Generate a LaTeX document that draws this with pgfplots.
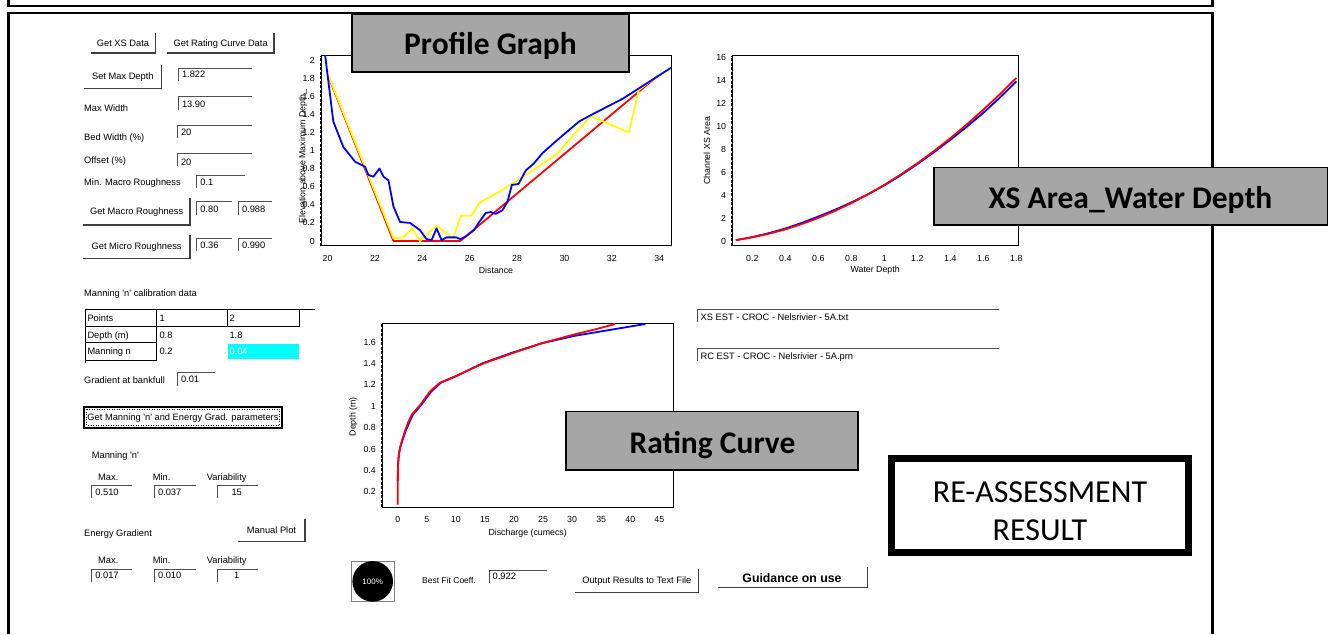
\documentclass[border=0pt]{standalone}
\usepackage{pgfplots}
\pgfplotsset{compat=1.18}
\usepackage{fontspec}
\setmainfont{Liberation Sans}
\newfontfamily\calib{Carlito}
\definecolor{boxgray}{HTML}{A6A6A6}
\definecolor{btnshadow}{HTML}{404040}
\definecolor{fieldline}{HTML}{505050}
\definecolor{ylw}{HTML}{FFFF00}
\definecolor{cyanfill}{HTML}{00FFFF}
\newcommand{\Btn}[5]{%
  \draw[btn] (#1,634-#4) -- (#2,634-#4) -- (#2,634-#3);
  \node[uic] at ({(#1+#2)/2},{634-(#3+#4)/2}) {#5};}
\newcommand{\Fld}[5]{%
  \draw[fld] (#1,634-#2-13) -- (#1,634-#2) -- (#3,634-#2);
  \node[ui] at (#1+3.5,634-#4) {#5};}
\newcommand{\Lbl}[3]{\node[ui] at (#1,634-#2) {#3};}
\newcommand{\q}{\textquotesingle}
\pgfplotsset{chart/.style={
  scale only axis, anchor=south west,
  axis line style={black, line width=1pt},
  tick style={draw=none},
  ticklabel style={font=\fontsize{8.8}{9}\selectfont},
  /pgf/number format/assume math mode=true,
  xticklabel style={anchor=center, yshift=-12pt},
  yticklabel style={anchor=east, inner sep=0pt, xshift=-6pt},
  label style={font=\fontsize{8.8}{9}\selectfont},
  clip mode=individual,
  every axis plot/.append style={line width=1.8pt, line join=round},
}}
\begin{document}
\begin{tikzpicture}[x=1pt,y=1pt,
  ui/.style={font=\fontsize{9.3}{10}\selectfont, inner sep=0pt, text height=6.7pt, text depth=0pt, anchor=west},
  uic/.style={ui, anchor=center},
  btn/.style={draw=btnshadow, line width=1.2pt},
  fld/.style={draw=fieldline, line width=0.9pt}]
\fill[white] (0,0) rectangle (1332,634);
% outer frames
\draw[line width=2.5pt] (8.5,634) -- (8.5,628) -- (1212.5,628) -- (1212.5,634);
\draw[line width=2.5pt] (8.5,0) -- (8.5,621) -- (1212.5,621) -- (1212.5,0);

% ---------------- Profile graph
\begin{axis}[chart, at={(321pt,388pt)}, width=350pt, height=190.3pt,
  xmin=19.72, xmax=34.5, ymin=-0.055, ymax=2.047,
  xtick={20,22,...,34}, ytick={0,0.2,0.4,0.6,0.8,1,1.2,1.4,1.6,1.8,2},
  xlabel={Distance}, ylabel={Elevation above Maximum Depth\_},
  xlabel style={at={(axis description cs:0.5,-0.126)}, anchor=center},
  ylabel style={at={(axis description cs:-0.0514,0.47)}, anchor=center}]
\addplot[red] coordinates {(20.03,1.82) (22.78,0) (25.6,0) (33.92,1.82)};
\addplot[ylw] coordinates {(20.03,1.83) (22.78,0.03) (23.2,0.04) (23.56,0.14) (23.9,0.0) (24.6,0.17) (25.3,0.03) (25.63,0.28) (26.08,0.28) (26.4,0.42) (27.67,0.61) (29.63,0.95) (31.11,1.38) (32.72,1.20) (33.14,1.67) (33.92,1.82)};
\addplot[blue] coordinates {(19.85,2.15) (19.9,2.04) (20.24,1.32) (20.66,1.04) (21.16,0.876) (21.58,0.82) (21.72,0.73) (21.93,0.71) (22.19,0.80) (22.36,0.71) (22.57,0.67) (22.78,0.38) (23.06,0.21) (23.48,0.20) (23.9,0.12) (24.18,0.02) (24.39,0.01) (24.6,0.14) (24.81,0.01) (25.02,0.04) (25.44,0.04) (25.6,0.02) (25.83,0.05) (26.18,0.12) (26.4,0.21) (26.68,0.31) (26.89,0.32) (27.1,0.30) (27.38,0.34) (27.59,0.43) (27.78,0.62) (28.06,0.63) (28.37,0.78) (28.72,0.86) (29.07,0.97) (29.63,1.10) (30.12,1.21) (30.62,1.32) (31.11,1.39) (32.45,1.57) (34.48,1.91) (34.6,1.93)};
\draw[line width=2pt, dash pattern=on 3pt off 1.5pt] (rel axis cs:0,0) -- (rel axis cs:0,1);
\end{axis}

% ---------------- XS area
\begin{axis}[chart, at={(732.3pt,388pt)}, width=285.7pt, height=190pt,
  xmin=0.079, xmax=1.81, ymin=-0.35, ymax=16.1,
  xtick={0.2,0.4,0.6,0.8,1,1.2,1.4,1.6,1.8}, ytick={0,2,...,16},
  xlabel={Water Depth}, ylabel={Channel XS Area},
  xlabel style={at={(axis description cs:0.5,-0.126)}, anchor=center},
  ylabel style={at={(axis description cs:-0.0886,0.5)}, anchor=center}]
\addplot[blue] coordinates {(0.1,0.15) (0.2,0.42) (0.3,0.76) (0.4,1.16) (0.5,1.65) (0.6,2.2) (0.7,2.78) (0.8,3.42) (0.9,4.12) (1.0,4.90) (1.1,5.78) (1.2,6.74) (1.3,7.76) (1.4,8.84) (1.5,9.98) (1.6,11.18) (1.7,12.5) (1.8,13.9)};
\addplot[red] coordinates {(0.1,0.16) (0.2,0.40) (0.3,0.71) (0.4,1.09) (0.5,1.55) (0.6,2.08) (0.7,2.68) (0.8,3.36) (0.9,4.11) (1.0,4.94) (1.1,5.84) (1.2,6.81) (1.3,7.86) (1.4,8.98) (1.5,10.18) (1.6,11.45) (1.7,12.79) (1.8,14.2)};
\draw[line width=2pt, dash pattern=on 3pt off 1.5pt] (rel axis cs:0,0) -- (rel axis cs:0,1);
\end{axis}

% ---------------- Rating curve
\begin{axis}[chart, at={(382pt,126.7pt)}, width=291.3pt, height=183.3pt,
  xmin=-2.7, xmax=47.4, ymin=0.054, ymax=1.77,
  xtick={0,5,...,45}, ytick={0.2,0.4,0.6,0.8,1,1.2,1.4,1.6},
  xlabel={Discharge (cumecs)}, ylabel={Depth (m)},
  xlabel style={at={(axis description cs:0.5,-0.142)}, anchor=center},
  ylabel style={at={(axis description cs:-0.0985,0.494)}, anchor=center}]
\addplot[blue] coordinates {(0,0.3) (0.05,0.45) (0.2,0.55) (0.45,0.62) (0.75,0.67) (1.3,0.76) (2.0,0.85) (2.6,0.92) (4.0,1.01) (5.8,1.14) (7.4,1.22) (10.0,1.28) (14.5,1.40) (19.6,1.50) (24.8,1.59) (30.5,1.66) (36,1.71) (42.6,1.77)};
\addplot[red] coordinates {(0,0.08) (0.02,0.3) (0.06,0.45) (0.2,0.55) (0.45,0.62) (0.69,0.67) (1.2,0.76) (1.8,0.85) (2.41,0.92) (3.84,1.01) (5.56,1.14) (7.28,1.22) (9.86,1.28) (14.7,1.40) (19.9,1.50) (24.8,1.59) (30.2,1.67) (34,1.72) (37.4,1.77)};
\draw[line width=2pt, dash pattern=on 3pt off 1.5pt] (rel axis cs:0,0) -- (rel axis cs:0,1);
\end{axis}

% ---------------- title boxes
\draw[fill=boxgray, line width=1.5pt] (352,634-14) rectangle (629,634-72);
\node[anchor=base, inner sep=0pt, font=\calib\bfseries\fontsize{31.5}{32}\selectfont] at (490.5,634-55) {Profile Graph};
\draw[fill=boxgray, line width=1.5pt] (934,634-167.3) rectangle (1327.7,634-225);
\node[anchor=base, inner sep=0pt, font=\calib\bfseries\fontsize{31.5}{32}\selectfont] at (1130.5,634-208.5) {XS Area\_Water Depth};
\draw[fill=boxgray, line width=1.5pt] (566,634-411.7) rectangle (858,634-470);
\node[anchor=base, inner sep=0pt, font=\calib\bfseries\fontsize{31.5}{32}\selectfont] at (712.5,634-453.3) {Rating Curve};
\draw[line width=7pt] (891.8,634-458.5) rectangle (1188.2,634-552.2);
\node[anchor=base, inner sep=0pt, font=\calib\fontsize{32}{34}\selectfont] at (1040,634-503) {RE-ASSESSMENT};
\node[anchor=base, inner sep=0pt, font=\calib\fontsize{32}{34}\selectfont] at (1040,634-541) {RESULT};

% ---------------- left panel
\Btn{90.7}{155.3}{33}{53}{Get XS Data}
\Btn{167.3}{274}{33}{53}{Get Rating Curve Data}
\Btn{84}{161.7}{65}{88.3}{Set Max Depth}
\Fld{178.3}{68.3}{251.7}{74.3}{1.822}
\Lbl{84}{108.3}{Max Width}
\Fld{178.3}{96.7}{251.7}{104.3}{13.90}
\Lbl{84}{137.3}{Bed Width (\%)}
\Fld{177.3}{125}{251.7}{132.3}{20}
\Lbl{84}{160}{Offset (\%)}
\Fld{177.3}{153.3}{251.7}{161.7}{20}
\Lbl{84}{181.7}{Min. Macro Roughness}
\Fld{196.7}{175}{245}{181.7}{0.1}
\Btn{83.3}{190}{198.3}{225}{Get Macro Roughness}
\Fld{196.7}{201.7}{231.7}{209}{0.80}
\Fld{238.3}{201.7}{272}{209}{0.988}
\Btn{83.3}{190}{235}{258.3}{Get Micro Roughness}
\Fld{196.7}{238.3}{231.7}{245}{0.36}
\Fld{238.3}{238.3}{272}{245}{0.990}

\Lbl{84}{293.3}{Manning \q n\q{} calibration data}
\fill[cyanfill] (228.3,634-344) rectangle (299.3,634-359);
\begin{scope}[line width=0.9pt]
\draw (85,634-309.3) -- (315,634-309.3);
\draw (85,634-326.7) -- (299.3,634-326.7);
\draw (299.3,634-309.3) -- (299.3,634-326.7);
\draw (227.7,634-309.3) -- (227.7,634-326.7);
\draw (156.7,634-309.3) -- (156.7,634-360);
\draw (85,634-342.7) -- (156.7,634-342.7);
\draw (85,634-360) -- (156.7,634-360);
\draw (85,634-309.3) -- (85,634-363.3);
\end{scope}
\Lbl{87.3}{318.3}{Points}
\Lbl{159.3}{318.3}{1}
\Lbl{229.3}{318.3}{2}
\Lbl{87.3}{335}{Depth (m)}
\Lbl{159.3}{335}{0.8}
\Lbl{229.3}{335}{1.8}
\Lbl{87.3}{350.7}{Manning n}
\Lbl{159.3}{350.7}{0.2}
\node[ui, text=white] at (229.3,634-351) {0.04};

\Lbl{84}{380}{Gradient at bankfull}
\Fld{177.3}{372.7}{215}{379}{0.01}
\draw[line width=1.2pt] (84,634-407) rectangle (282,634-428);
\draw[line width=0.5pt, dotted] (86.5,634-409.5) rectangle (279.5,634-425.5);
\node[uic] at (183,634-417.5) {Get Manning \q n\q{} and Energy Grad. parameters};

\Lbl{91.7}{455}{Manning \q n\q}
\Lbl{98}{476.7}{Max.}
\Lbl{152.7}{476.7}{Min.}
\Lbl{206.7}{476.7}{Variability}
\Fld{91.7}{485}{131.7}{491.7}{0.510}
\Fld{154.3}{485}{196}{491.7}{0.037}
\draw[fld] (217.7,634-485-13) -- (217.7,634-485) -- (258.3,634-485);
\node[uic] at (236.7,634-491.7) {15};

\Lbl{84}{532.7}{Energy Gradient}
\Btn{238}{305}{519}{541.7}{Manual Plot}
\Lbl{98}{560}{Max.}
\Lbl{152.7}{560}{Min.}
\Lbl{206.7}{560}{Variability}
\Fld{91.7}{569.3}{131.7}{575}{0.017}
\Fld{154.3}{569.3}{196}{575}{0.010}
\draw[fld] (217.7,634-569.3-13) -- (217.7,634-569.3) -- (258.3,634-569.3);
\node[uic] at (236.7,634-575) {1};

% ---------------- bottom row
\draw[gray, line width=0.8pt] (351.4,634-561.2) rectangle (394.1,634-601.6);
\fill[black] (372.7,634-581.4) circle (20.3);
\node[uic, text=white, font=\fontsize{8}{9}\selectfont] at (372.7,634-581.4) {100\%};
\node[ui, font=\fontsize{8.5}{9}\selectfont] at (422,634-580) {Best Fit Coeff.};
\Fld{489}{570.5}{547}{576}{0.922}
\Btn{575}{698.6}{568.8}{592.2}{Output Results to Text File}
\draw[btn] (718,634-587.8) -- (867.6,634-587.8) -- (867.6,634-567);
\node[uic, font=\bfseries\fontsize{12.3}{13}\selectfont, text height=8.9pt] at (792,634-578) {Guidance on use};

% ---------------- file name boxes
\Fld{697}{309}{999}{317}{XS EST - CROC - Nelsrivier - 5A.txt}
\Fld{697}{348}{999}{356}{RC EST - CROC - Nelsrivier - 5A.prn}

\pgfresetboundingbox
\path[use as bounding box] (0,0) rectangle (1332,634);
\end{tikzpicture}
\end{document}
